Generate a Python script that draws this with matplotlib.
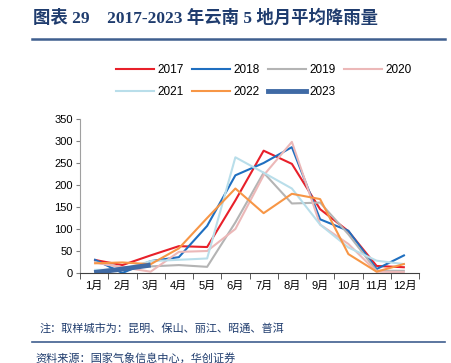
import matplotlib.pyplot as plt
import numpy as np
from matplotlib.lines import Line2D

months = ['1月', '2月', '3月', '4月', '5月', '6月', '7月', '8月', '9月', '10月', '11月', '12月']

# 月平均降雨量 (mm)
y2017 = [30, 18, 40, 61, 59, 165, 278, 248, 145, 95, 16, 13]
y2018 = [31, 0, 27, 36, 107, 222, 250, 286, 122, 96, 9, 41]
y2019 = [25, 13, 15, 18, 14, 115, 228, 158, 160, 88, 5, 5]
y2020 = [24, 13, 3, 48, 50, 100, 222, 298, 110, 66, 3, 2]
y2021 = [7, 8, 27, 30, 33, 263, 228, 192, 110, 58, 28, 20]
y2022 = [22, 24, 20, 56, 125, 192, 136, 180, 168, 43, 3, 21]
y2023 = [1, 9, 18]

series = [
    ('2017', y2017, '#E8202A', 1.5),
    ('2018', y2018, '#1F6FC0', 1.5),
    ('2019', y2019, '#B4B4B4', 1.5),
    ('2020', y2020, '#ECB8B8', 1.5),
    ('2021', y2021, '#B9DEEA', 1.5),
    ('2022', y2022, '#F79646', 1.5),
    ('2023', y2023, '#3F6AA5', 3.5),
]

navy = '#1F3C6E'
cjk = ['Liberation Serif', 'Noto Sans CJK SC', 'DejaVu Sans']
plt.rcParams['font.family'] = ['Liberation Sans', 'Noto Sans CJK SC', 'DejaVu Sans']

fig = plt.figure(figsize=(4.51, 3.63), dpi=100)
W, H = 451, 363
ax = fig.add_axes([80 / W, 1 - 273 / H, 339 / W, 154 / H])

for name, vals, c, lw in series:
    x = np.arange(len(vals)) + 0.5
    ax.plot(x, vals, color=c, linewidth=lw, label=name, solid_capstyle='butt')

ax.set_xlim(0, 12)
ax.set_ylim(0, 350)
ax.set_yticks(np.arange(0, 351, 50))
ax.set_xticks(np.arange(12) + 0.5)
ax.set_xticklabels(months)
ax.set_xticks(np.arange(13), minor=True)
ax.tick_params(axis='x', which='major', length=0, pad=6, labelsize=8)
ax.tick_params(axis='x', which='minor', length=4, color='#404040', direction='out')
ax.tick_params(axis='y', length=3, color='#808080', labelsize=8, pad=2)
for s in ['top', 'right']:
    ax.spines[s].set_visible(False)
ax.spines['left'].set_color('#A0A0A0')
ax.spines['bottom'].set_color('#404040')

# 图例按行排列：第一行 2017-2020，第二行 2021-2023
handles = [Line2D([], [], color=c, linewidth=lw) for _, _, c, lw in series]
labels = [n for n, _, _, _ in series]
order = [0, 4, 1, 5, 2, 6, 3]
fig.legend([handles[i] for i in order], [labels[i] for i in order], ncol=4,
           frameon=False, fontsize=8.5,
           loc='center', bbox_to_anchor=(264 / W, 1 - 81 / H),
           handlelength=3.2, handletextpad=0.3, columnspacing=0.7,
           labelspacing=0.85)

# 标题
fig.text(33 / W, 1 - 18 / H, '图表 29    2017-2023 年云南 5 地月平均降雨量',
         family=cjk, fontsize=12.5, fontweight='bold', color=navy, va='center')
fig.add_artist(Line2D([32 / W, 445 / W], [1 - 39 / H, 1 - 39 / H], color='#3F5F8F', linewidth=1.8))

fig.text(40 / W, 1 - 328 / H, '注：取样城市为：昆明、保山、丽江、昭通、普洱',
         family=cjk, fontsize=8, color=navy, va='center')
fig.add_artist(Line2D([32 / W, 445 / W], [1 - 342 / H, 1 - 342 / H], color='#3F5F8F', linewidth=1.2))
fig.text(35 / W, 1 - 358 / H, '资料来源：国家气象信息中心，华创证券',
         family=cjk, fontsize=8, color=navy, va='center', style='italic')

fig.savefig('out.png', dpi=100)
